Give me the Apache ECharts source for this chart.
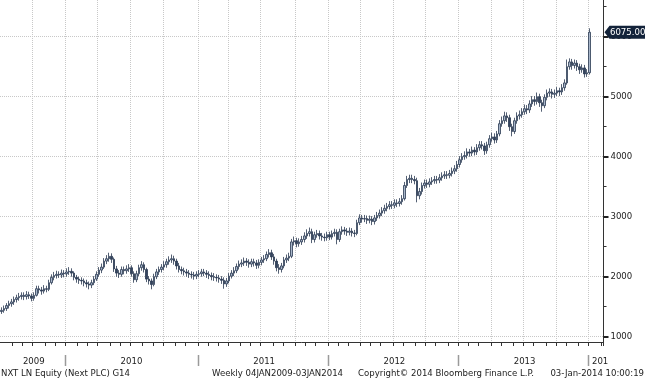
<!DOCTYPE html>
<html><head><meta charset="utf-8">
<script src="https://cdn.jsdelivr.net/npm/echarts@6/dist/echarts.min.js"></script>
<style>html,body{margin:0;padding:0;background:#fff}#c{width:645px;height:380px}</style>
</head><body><div id="c"></div>
<script>
// ---- data ----
const firstWeek = '2009-07-03';   // Friday of first visible week
const weekSlots = 241;            // weekly slots on the axis (incl. empty ones at the right)
const yearLabels = ['2009', '2010', '2011', '2012', '2013', '2014'];
const yTicks = [1000, 2000, 3000, 4000, 5000, 6000];
const yMinorTicks = [1500, 2500, 3500, 4500, 5500, 6500];
const lastPrice = 6075;
const lastPriceLabel = '6075.00';
const footerLeft = 'NXT LN Equity (Next PLC) G14';
const footerRange = 'Weekly 04JAN2009-03JAN2014';
const footerCopy = 'Copyright\u00A9 2014 Bloomberg Finance L.P.';
const footerStamp = '03-Jan-2014 10:00:19';
// weekly candles: [open, close, low, high]
const ohlc = [
[1420,1440,1380,1490],[1440,1470,1400,1520],[1470,1520,1430,1560],[1520,1550,1470,1600],
[1550,1580,1500,1630],[1580,1620,1530,1670],[1620,1650,1570,1700],[1650,1670,1600,1730],
[1670,1690,1620,1740],[1690,1670,1610,1740],[1670,1700,1620,1760],[1700,1680,1630,1750],
[1680,1640,1590,1720],[1640,1690,1600,1740],[1690,1800,1670,1850],[1800,1780,1720,1850],
[1780,1760,1700,1830],[1760,1800,1720,1860],[1800,1790,1740,1850],[1790,1900,1760,1950],
[1900,1990,1870,2040],[1990,2020,1940,2080],[2020,2040,1970,2100],[2040,2030,1980,2090],
[2030,2060,1980,2120],[2060,2050,1990,2110],[2050,2080,2000,2140],[2080,2090,2030,2160],
[2090,2060,2000,2140],[2060,1990,1940,2090],[1990,1960,1900,2030],[1960,1940,1880,2000],
[1940,1930,1870,1990],[1930,1900,1840,1970],[1900,1880,1820,1950],[1880,1860,1790,1920],
[1860,1900,1810,1950],[1900,1960,1860,2010],[1960,2040,1930,2090],[2040,2110,2000,2160],
[2110,2160,2060,2220],[2160,2260,2130,2310],[2260,2300,2210,2360],[2300,2340,2250,2400],
[2340,2290,2230,2390],[2290,2130,2080,2320],[2130,2060,2000,2180],[2060,2040,1980,2110],
[2040,2120,2000,2170],[2120,2100,2040,2170],[2100,2130,2050,2190],[2130,2150,2080,2210],
[2150,2050,2000,2190],[2050,1950,1900,2090],[1950,2050,1910,2100],[2050,2150,2010,2200],
[2150,2200,2100,2260],[2200,2120,2070,2240],[2120,1960,1910,2150],[1960,1930,1870,2010],
[1930,1870,1790,1970],[1870,2000,1840,2050],[2000,2080,1960,2130],[2080,2120,2030,2170],
[2120,2160,2070,2210],[2160,2200,2110,2260],[2200,2250,2150,2300],[2250,2280,2200,2340],
[2280,2300,2230,2370],[2300,2260,2200,2350],[2260,2180,2120,2300],[2180,2120,2070,2230],
[2120,2100,2040,2170],[2100,2080,2020,2150],[2080,2060,2000,2130],[2060,2040,1980,2110],
[2040,2030,1970,2090],[2030,2010,1950,2080],[2010,2040,1960,2090],[2040,2050,1990,2110],
[2050,2080,2000,2130],[2080,2060,2010,2130],[2060,2040,1980,2110],[2040,2020,1960,2090],
[2020,2000,1940,2070],[2000,1990,1930,2060],[1990,1980,1920,2040],[1980,1960,1900,2030],
[1960,1940,1880,2010],[1940,1880,1800,1990],[1880,1930,1830,1980],[1930,2010,1890,2060],
[2010,2060,1970,2110],[2060,2100,2010,2160],[2100,2170,2060,2220],[2170,2210,2120,2270],
[2210,2230,2160,2290],[2230,2260,2180,2320],[2260,2240,2180,2310],[2240,2210,2150,2290],
[2210,2250,2160,2300],[2250,2230,2170,2300],[2230,2190,2130,2280],[2190,2240,2140,2290],
[2240,2280,2190,2330],[2280,2300,2230,2360],[2300,2370,2260,2420],[2370,2400,2320,2460],
[2400,2330,2280,2450],[2330,2260,2200,2380],[2260,2150,2090,2300],[2150,2120,2050,2210],
[2120,2180,2070,2230],[2180,2280,2140,2330],[2280,2310,2230,2370],[2310,2340,2260,2400],
[2340,2580,2310,2630],[2580,2600,2520,2670],[2600,2550,2490,2650],[2550,2580,2500,2640],
[2580,2620,2530,2680],[2620,2680,2570,2740],[2680,2720,2630,2790],[2720,2750,2670,2820],
[2750,2620,2560,2800],[2620,2700,2570,2750],[2700,2720,2650,2780],[2720,2680,2620,2770],
[2680,2660,2600,2730],[2660,2650,2590,2720],[2650,2700,2600,2750],[2700,2660,2610,2750],
[2660,2720,2620,2770],[2720,2740,2670,2800],[2740,2620,2540,2790],[2620,2750,2580,2800],
[2750,2780,2700,2840],[2780,2760,2700,2830],[2760,2740,2680,2810],[2740,2760,2690,2820],
[2760,2730,2670,2810],[2730,2720,2660,2780],[2720,2900,2690,2950],[2900,2980,2860,3040],
[2980,2960,2900,3030],[2960,2970,2910,3030],[2970,2940,2880,3020],[2940,2960,2890,3020],
[2960,2920,2860,3010],[2920,2980,2870,3030],[2980,3020,2930,3080],[3020,3060,2970,3120],
[3060,3100,3010,3160],[3100,3140,3050,3200],[3140,3170,3090,3230],[3170,3200,3120,3260],
[3200,3190,3130,3260],[3190,3230,3140,3290],[3230,3220,3160,3290],[3220,3250,3170,3310],
[3250,3300,3200,3360],[3300,3520,3270,3580],[3520,3620,3480,3680],[3620,3640,3560,3700],
[3640,3620,3560,3700],[3620,3600,3540,3680],[3600,3350,3240,3650],[3350,3420,3290,3480],
[3420,3520,3370,3570],[3520,3560,3470,3620],[3560,3540,3480,3620],[3540,3580,3490,3640],
[3580,3600,3530,3660],[3600,3620,3550,3680],[3620,3610,3550,3680],[3610,3650,3560,3710],
[3650,3680,3600,3740],[3680,3700,3630,3760],[3700,3690,3630,3760],[3690,3720,3640,3780],
[3720,3760,3670,3820],[3760,3800,3710,3860],[3800,3870,3750,3930],[3870,3950,3820,4010],
[3950,4000,3900,4060],[4000,4020,3950,4090],[4020,4080,3970,4140],[4080,4060,4000,4130],
[4060,4110,4010,4170],[4110,4080,4020,4160],[4080,4150,4030,4210],[4150,4200,4100,4260],
[4200,4180,4120,4260],[4180,4100,4030,4230],[4100,4200,4050,4250],[4200,4300,4150,4360],
[4300,4330,4250,4400],[4330,4280,4220,4390],[4280,4380,4230,4430],[4380,4550,4340,4610],
[4550,4600,4500,4670],[4600,4680,4550,4750],[4680,4650,4580,4740],[4650,4500,4430,4700],
[4500,4420,4340,4550],[4420,4600,4380,4650],[4600,4680,4550,4740],[4680,4700,4620,4770],
[4700,4750,4650,4810],[4750,4800,4700,4870],[4800,4780,4710,4860],[4780,4880,4730,4940],
[4880,4950,4830,5010],[4950,4920,4850,5010],[4920,5000,4870,5070],[5000,4900,4830,5050],
[4900,4850,4750,4950],[4850,4990,4810,5040],[4990,5060,4940,5120],[5060,5080,5000,5140],
[5080,5040,4970,5130],[5040,5060,4980,5120],[5060,5100,5010,5160],[5100,5080,5010,5150],
[5080,5150,5030,5210],[5150,5230,5100,5290],[5230,5500,5200,5620],[5500,5580,5450,5640],
[5580,5520,5450,5630],[5520,5560,5470,5620],[5560,5500,5430,5610],[5500,5450,5380,5550],
[5450,5480,5400,5540],[5480,5380,5320,5530],[5380,5400,5330,5460],[5400,6075,5370,6140]
];

// ---- layout / style ----
const W = 645, H = 380;
const GRID = { left: 0, right: 41.5, top: -1, bottom: 38 };
const Y_MIN = 912, Y_MAX = 6612;
const FONT = "'DejaVu Sans Condensed', 'Liberation Sans', sans-serif";
const FS = 9.5;
const TXT = '#222';

// weekly category axis (Friday dates)
const cats = [];
const t0 = Date.parse(firstWeek + 'T00:00:00Z');
for (let i = 0; i < weekSlots; i++) cats.push(new Date(t0 + i * 7 * 86400000).toISOString().slice(0, 10));
const monthStart = new Set(), quarterStart = new Set(), yearStart = [];
for (let i = 1; i < cats.length; i++) {
  const m = +cats[i].slice(5, 7), pm = +cats[i - 1].slice(5, 7);
  if (m !== pm) { monthStart.add(i); if ((m - 1) % 3 === 0) quarterStart.add(i); }
  if (cats[i].slice(0, 4) !== cats[i - 1].slice(0, 4)) yearStart.push(i);
}
const bounds = [0].concat(yearStart);
const labelAt = {};
for (let k = 0; k < bounds.length - 1; k++) {
  labelAt[Math.round((bounds[k] + bounds[k + 1] - 1) / 2)] = yearLabels[k];
}
const lastYearIdx = yearStart[yearStart.length - 1];
const lastYearLabel = yearLabels[yearLabels.length - 1];

const chart = echarts.init(document.getElementById('c'), null, { renderer: 'canvas' });
chart.setOption({
  animation: false,
  backgroundColor: '#fff',
  grid: GRID,
  xAxis: [{
    type: 'category', data: cats, boundaryGap: true,
    axisLine: { show: true, lineStyle: { color: '#333', width: 1 } },
    axisTick: { show: true, interval: (i) => monthStart.has(i), length: 4, lineStyle: { color: '#333', width: 1 } },
    axisLabel: { interval: (i) => labelAt[i] !== undefined, formatter: (v, i) => labelAt[i] || '',
      margin: 15, color: TXT, fontSize: FS, fontFamily: FONT },
    splitLine: { show: true, interval: (i) => quarterStart.has(i), lineStyle: { color: '#c8c8c8', type: 'dotted', width: 1 } }
  }],
  yAxis: [{
    type: 'value', position: 'right', min: Y_MIN, max: Y_MAX,
    axisLine: { show: true, lineStyle: { color: '#333', width: 1 } },
    axisTick: { show: true, customValues: yTicks, length: 5, lineStyle: { color: '#222', width: 2 } },
    axisLabel: { customValues: yTicks, formatter: (v) => String(v), margin: 7, color: TXT, fontSize: FS, fontFamily: FONT },
    splitLine: { show: true, lineStyle: { color: '#c8c8c8', type: 'dotted', width: 1 } }
  }, {
    type: 'value', position: 'right', min: Y_MIN, max: Y_MAX,
    axisLine: { show: false },
    axisTick: { show: true, customValues: yMinorTicks, length: 3, lineStyle: { color: '#333', width: 1 } },
    axisLabel: { show: false },
    splitLine: { show: false }
  }],
  series: [{
    type: 'candlestick', xAxisIndex: 0, yAxisIndex: 0,
    data: ohlc, barWidth: 2,
    itemStyle: { color: '#a8b6ca', color0: '#34445e', borderColor: '#2a3850', borderColor0: '#2a3850', borderWidth: 0.8 }
  }]
});

const axisX = W - GRID.right;
const py = chart.convertToPixel({ yAxisIndex: 0 }, lastPrice);
const c0 = chart.convertToPixel({ xAxisIndex: 0 }, cats[0]);
const band = chart.convertToPixel({ xAxisIndex: 0 }, cats[1]) - c0;
const fy = 373.5;
const gfx = [
  { type: 'polygon', shape: { points: [[axisX + 1, py], [axisX + 6, py - 6.5], [W, py - 6.5], [W, py + 6.5], [axisX + 6, py + 6.5]] },
    style: { fill: '#13233a' }, z: 100 },
  { type: 'text', x: axisX + 6.5, y: py, z: 101,
    style: { text: lastPriceLabel, fill: '#fff', font: FS + 'px ' + FONT, verticalAlign: 'middle', align: 'left' } },
  { type: 'text', x: 1, y: fy, style: { text: footerLeft, fill: TXT, font: FS + 'px ' + FONT, verticalAlign: 'middle' } },
  { type: 'text', x: 212, y: fy, style: { text: footerRange, fill: TXT, font: FS + 'px ' + FONT, verticalAlign: 'middle' } },
  { type: 'text', x: 358, y: fy, style: { text: footerCopy, fill: TXT, font: FS + 'px ' + FONT, verticalAlign: 'middle' } },
  { type: 'text', x: 644, y: fy, style: { text: footerStamp, fill: TXT, font: FS + 'px ' + FONT, verticalAlign: 'middle', align: 'right' } }
];
// year separators below the axis, at the first week of each year
yearStart.forEach((i) => {
  const x = Math.round(chart.convertToPixel({ xAxisIndex: 0 }, cats[i]) - band / 2) + 0.5;
  gfx.push({ type: 'line', shape: { x1: x, y1: 355, x2: x, y2: 366 }, style: { stroke: '#9a9a9a', lineWidth: 1.5 } });
});
// last (cut-off) year label
const xl = chart.convertToPixel({ xAxisIndex: 0 }, cats[lastYearIdx]) - band / 2 + 3.5;
gfx.push({ type: 'text', x: xl, y: 361.5, style: { text: lastYearLabel, width: 18, overflow: 'truncate', ellipsis: '',
  fill: TXT, font: FS + 'px ' + FONT, verticalAlign: 'middle', align: 'left' } });
chart.setOption({ graphic: gfx });
</script></body></html>
